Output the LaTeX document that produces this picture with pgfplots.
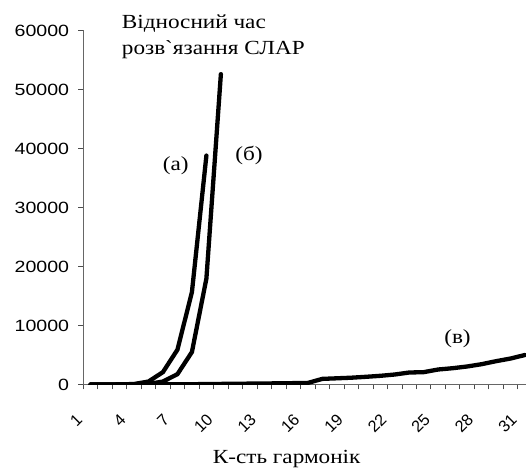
\documentclass[border=0pt]{standalone}
\usepackage{fontspec}
\setmainfont{Liberation Serif}
\newfontfamily\tfont{Liberation Serif}[Ligatures=TeXOff]
\newfontfamily\numsf{Liberation Sans}
\usepackage{graphicx}
\usepackage{pgfplots}
\pgfplotsset{compat=1.18}
\newcommand{\st}[1]{\scalebox{1.2}[1]{#1}}
\newcommand{\sts}[1]{\scalebox{1.16}[1]{#1}}
\begin{document}
\begin{tikzpicture}[x=1bp,y=1bp]
\begin{axis}[
  scale only axis,
  width=442.7bp, height=354bp,
  at={(83.3bp,83.5bp)}, anchor=south west,
  xmin=0.5, xmax=31.07,
  ymin=0, ymax=60000,
  axis x line=bottom, axis y line=left,
  axis line style={-, black!60, line width=0.8bp},
  tick align=outside,
  xtick={1,4,...,31},
  minor xtick={0.5,1.5,...,30.5},
  major x tick style={draw=none},
  minor x tick style={black!70, line width=0.8bp},
  minor tick length=5bp,
  major tick length=5bp,
  ytick={0,10000,...,60000},
  y tick style={black!70, line width=0.8bp},
  /pgf/number format/assume math mode=true,
  /pgf/number format/1000 sep={},
  scaled y ticks=false,
  yticklabel={\st{\pgfmathprintnumber{\tick}}},
  ticklabel style={font=\numsf\fontsize{16.3bp}{18bp}\selectfont, text=black},
  yticklabel style={inner sep=0pt, xshift=-9bp},
  xticklabel style={xshift=-11bp, yshift=-27bp, rotate=45, anchor=east, inner sep=0pt},
  clip=true,
]
\addplot[black, line width=4.3bp, line cap=round, line join=round] coordinates {
(1,0) (2,5) (3,20) (4,80) (5,500) (6,2100) (7,5900) (8,15650) (9,38800)
};
\addplot[black, line width=4.3bp, line cap=round, line join=round] coordinates {
(1,0) (2,0) (3,10) (4,30) (5,100) (6,500) (7,1750) (8,5500) (9,17950) (10,52600)
};
\addplot[black, line width=4.3bp, line cap=round, line join=round] coordinates {
(1,0) (2,0) (3,5) (4,10) (5,20) (6,30) (7,40) (8,50) (9,70) (10,100)
(11,120) (12,150) (13,170) (14,200) (15,230) (16,260) (17,950) (18,1050)
(19,1150) (20,1300) (21,1470) (22,1690) (23,2030) (24,2090) (25,2540)
(26,2760) (27,3050) (28,3440) (29,3950) (30,4400) (31,5000)
};
\end{axis}
\begin{scope}[every node/.style={inner sep=0pt, font=\tfont\fontsize{20bp}{25bp}\selectfont}]
\node[anchor=base west] at (121.7,439.7) {\sts{Відносний час}};
\node[anchor=base west] at (121.7,413) {\sts{розв`язання СЛАР}};
\node[anchor=base] at (175.8,297) {\sts{(а)}};
\node[anchor=base] at (249,307) {\sts{(б)}};
\node[anchor=base] at (457.5,124) {\sts{(в)}};
\node[anchor=base] at (286.7,4.7) {\sts{К-сть гармонік}};
\end{scope}
\pgfresetboundingbox
\path[use as bounding box] (0,0) rectangle (526,468);
\end{tikzpicture}
\end{document}
